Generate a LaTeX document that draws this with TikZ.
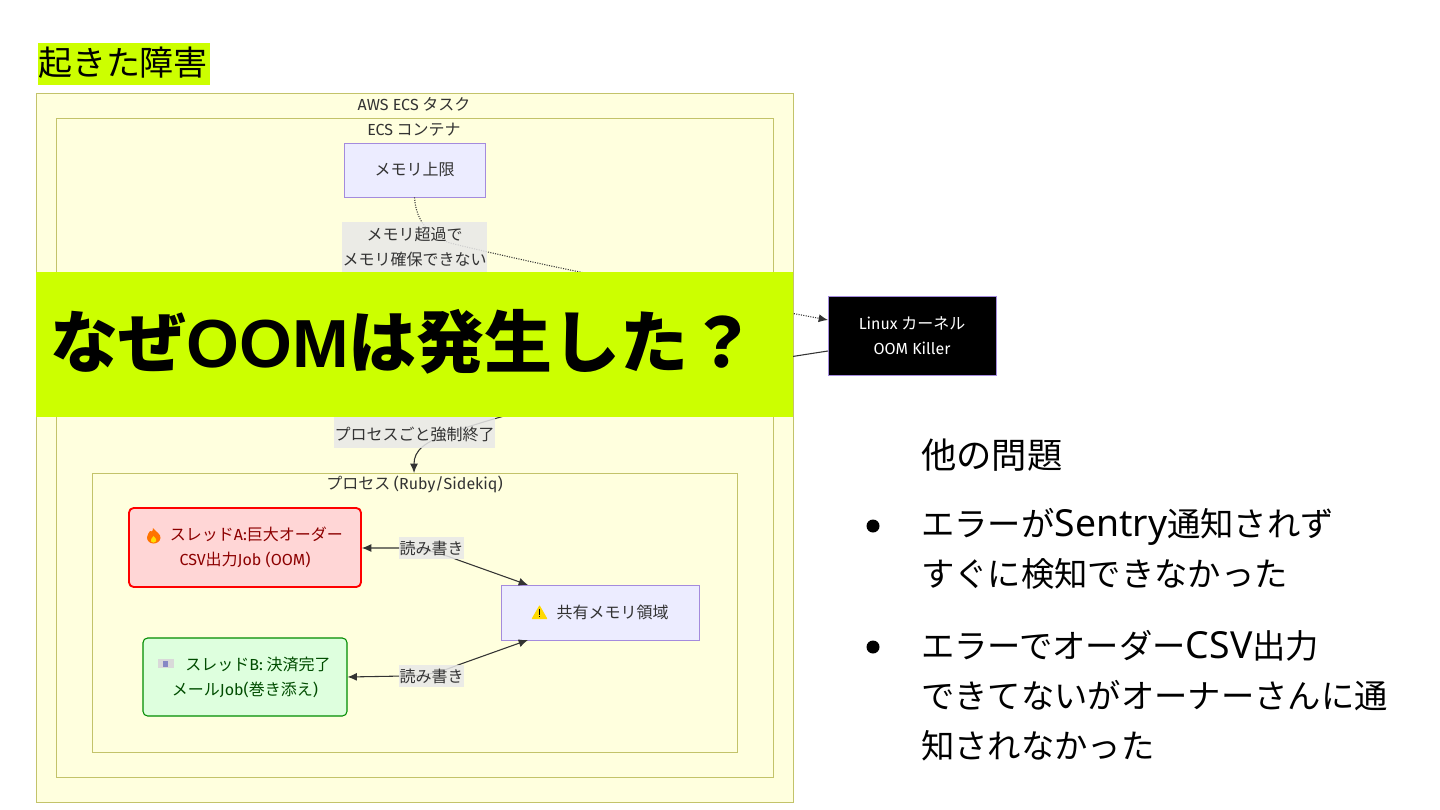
\documentclass[tikz,border=0pt]{standalone}
\usepackage{fontspec}
\setmainfont{Noto Sans CJK JP}
\newfontfamily\latinbold{Liberation Sans Bold}
\newfontfamily\lt{Fira Sans}
\newfontfamily\slat[Scale=1.12]{Noto Sans}
\usetikzlibrary{arrows.meta}
\definecolor{hl}{HTML}{CCFF00}
\definecolor{clfill}{HTML}{FFFFDE}
\definecolor{clline}{HTML}{C3C36A}
\definecolor{nfill}{HTML}{ECECFF}
\definecolor{nline}{HTML}{A48BDD}
\definecolor{ink}{HTML}{333333}
\definecolor{lblue}{HTML}{E8E8E8}
\tikzset{
 x=0.75pt,y=-0.75pt,
 cluster/.style={draw=clline,fill=clfill,line width=0.6pt},
 cltitle/.style={font=\fontsize{12}{14}\selectfont,text=ink,inner sep=0pt},
 basebox/.style={draw=nline,fill=nfill,line width=0.6pt},
 lab/.style={font=\fontsize{12}{18.75}\selectfont,text=ink,align=center,inner sep=0pt},
 elab/.style={lab,fill=lblue,fill opacity=0.85,text opacity=1,inner xsep=0.5pt},
 edge/.style={draw=ink,line width=0.8pt,-{Latex[length=7pt,width=6pt]}},
 twoway/.style={draw=ink,line width=0.8pt,{Latex[length=7pt,width=6pt]}-{Latex[length=7pt,width=6pt]}},
 dot/.style={edge,densely dotted},
 slide/.style={font=\fontsize{25}{37.5}\selectfont,text=black,inner sep=0pt,anchor=north west,align=left},
}
\begin{document}
\begin{tikzpicture}
\useasboundingbox (0,0) rectangle (1440,810);
\fill[white] (0,0) rectangle (1440,810);
% title
\node[fill=hl,minimum width=129pt,minimum height=31.5pt,inner sep=0pt,anchor=north west] (title) at (38,43) {};
\node[font=\fontsize{25.5}{30}\selectfont,text=black,inner sep=0pt] (titletext) at (123,63) {起きた障害};
% clusters
\path[cluster] (36,93) rectangle (793,802);
\node[cltitle] (t1) at (414,104) {{\lt AWS ECS} タスク};
\path[cluster] (56,118) rectangle (773,777);
\node[cltitle] (t2) at (414,130) {{\lt ECS} コンテナ};
\path[cluster] (92,473) rectangle (737,752);
\node[cltitle] (t3) at (414.5,484) {プロセス {\lt (Ruby/Sidekiq)}};
\coordinate (proc) at (414,473);
% nodes
\node[basebox,minimum width=105.75pt,minimum height=40.5pt,lab] (mem) at (414.5,170) {メモリ上限};
\node[basebox,fill=black,minimum width=126pt,minimum height=59.25pt,lab,text=white] (killer) at (912,335.5) {{\lt Linux} カーネル\\{\lt OOM Killer}};
\node[draw=red,fill=red!16,rounded corners=3.5pt,line width=1.4pt,minimum width=174pt,minimum height=59.25pt,lab,text=red!55!black] (ta) at (245,547.5) {\hspace*{17pt}スレッド{\lt A:}巨大オーダー\\{\lt CSV}出力{\lt Job (OOM)}};
\node[draw=green!55!black,fill=green!13,rounded corners=3.5pt,line width=0.8pt,minimum width=153pt,minimum height=58.5pt,lab,text=green!30!black] (tb) at (245,677) {\hspace*{19.5pt}スレッド{\lt B:} 決済完了\\メール{\lt Job(}巻き添え{\lt )}};
\node[basebox,minimum width=148.5pt,minimum height=41.25pt,lab] (shm) at (600,612.5) {\hspace*{19pt}共有メモリ領域};
% icons
\fill[orange!90!red] (153,528) .. controls (156,532) and (161,534) .. (160.5,538) .. controls (160,542) and (156,543.5) .. (153.5,543.5) .. controls (150,543.5) and (147,541) .. (147,537.5) .. controls (147,534.5) and (149,533) .. (150,531) .. controls (151,532) and (153,532) .. (153,528) -- cycle;
\fill[yellow!80!orange] (153.5,536) .. controls (156,538) and (157,540) .. (156,541.5) .. controls (155,543) and (152,543) .. (151,541.5) .. controls (150,540) and (152,538) .. (153.5,536) -- cycle;
\fill[gray!30] (158,659) rectangle (174,668);
\fill[blue!35!gray!70] (163,660.5) rectangle (168,666.5);
\fill[orange!30!yellow,rounded corners=0.5pt] (539.5,605) -- (547.5,619) -- (531.5,619) -- cycle;
\fill[black] (539,609) rectangle (540.2,614.5);
\fill[black] (539,615.5) rectangle (540.2,617);
% connector waypoints
\coordinate (lm) at (450,243);
\coordinate (lk) at (450,433);
\coordinate (ka) at (828,320);
\coordinate (kb) at (828,351);
\coordinate (sa) at (528,585);
\coordinate (sb) at (528,640);
\coordinate (ra) at (458,560);
\coordinate (rb) at (458,665);
% edges
\draw[dot] (mem.south) .. controls (416,222) and (430,236) .. (lm) .. controls (560,270) and (700,296) .. (ka);
\draw[edge] (kb) .. controls (650,378) and (520,408) .. (lk) .. controls (425,442) and (414,450) .. (proc);
\draw[twoway] (ta.east |- 0,548) -- (405,548) .. controls (425,548) and (445,555) .. (ra) -- (sa);
\draw[twoway] (tb.east |- 0,677) -- (405,676) .. controls (430,676) and (445,670) .. (rb) -- (sb);
\node[elab,minimum height=37.5pt] (lmt) at (414.5,247) {メモリ超過で\\メモリ確保できない};
\node[elab,minimum height=37.5pt] (lkt) at (414.5,422.5) {\phantom{あ}\\プロセスごと強制終了};
\node[elab,minimum height=16.5pt] (lat) at (431.5,548) {読み書き};
\node[elab,minimum height=16.5pt] (lbt) at (431.5,676) {読み書き};
% overlay
\fill[hl] (36,272) rectangle (793,417);
\node[inner sep=0pt,anchor=west,font=\fontsize{51}{60}\selectfont\bfseries,text=black] (big) at (50,342) {なぜ{\latinbold OOM}は発生した？};
% right
\node[slide,font=\fontsize{26.5}{37.5}\selectfont] (s0) at (921,439) {他の問題};
\node[slide] (s1) at (921,508) {エラーが{\slat Sentry}通知されず\\すぐに検知できなかった};
\node[slide] (s2) at (921,630) {エラーでオーダー{\slat CSV}出力\\できてないがオーナーさんに通\\知されなかった};
\fill[black] (873,526) circle (6.5);
\fill[black] (873,647) circle (6.5);
\end{tikzpicture}
\end{document}
